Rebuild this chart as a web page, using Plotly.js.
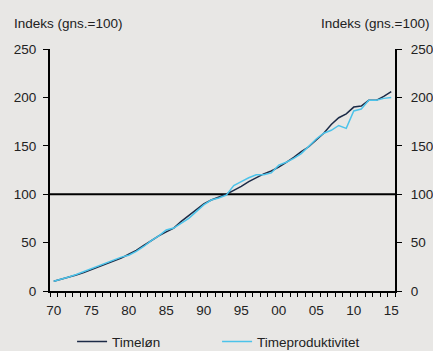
<!DOCTYPE html>
<html>
<head>
<meta charset="utf-8">
<script src="https://cdn.plot.ly/plotly-3.0.1.min.js"></script>
<style>
html,body{margin:0;padding:0;background:#e8e7e5;}
#chart{width:433px;height:351px;}
</style>
</head>
<body>
<div id="chart"></div>
<script>
const years = [1970,1971,1972,1973,1974,1975,1976,1977,1978,1979,1980,1981,1982,1983,1984,1985,1986,1987,1988,1989,1990,1991,1992,1993,1994,1995,1996,1997,1998,1999,2000,2001,2002,2003,2004,2005,2006,2007,2008,2009,2010,2011,2012,2013,2014,2015];
const timelon = [10,12,14,16.5,19,22,25,28,31,34,38,42,47,52,57,61,65,72,78,84,90,94,97,100,104,108,113,117,121,124,128,133,138,144,149,156,163,172,179,183,190,191,197,197,201,206];
const timeproduktivitet = [10,12,14.5,17,20,23,26,29,32,35,37,41,46,52,57,63,65,70,75,82,89,94,96,99,109,113,117,120,120,122,130,133,137,142,150,157,163,166,171,168,186,188,197,197,199,200];
const xTickVals = [1970,1975,1980,1985,1990,1995,2000,2005,2010,2015];
const xTickText = ['70','75','80','85','90','95','00','05','10','15'];
const yTickVals = [0,50,100,150,200,250];
const refLevel = 100;

const font = {family: 'Liberation Sans, Arial, sans-serif', size: 13.5, color: '#222'};

const traces = [
  {x: years, y: timelon, name: 'Timeløn', type: 'scatter', mode: 'lines',
   line: {color: '#1c2b47', width: 1.5}},
  {x: years, y: timeproduktivitet, name: 'Timeproduktivitet', type: 'scatter', mode: 'lines',
   line: {color: '#4cc3ea', width: 1.5}},
  {x: years, y: timelon, yaxis: 'y2', xaxis: 'x2', showlegend: false, hoverinfo: 'skip', mode: 'lines',
   line: {width: 0}, opacity: 0}
];

const axisCommon = {showgrid: false, zeroline: false, showline: true, linecolor: '#000', linewidth: 2, fixedrange: true};

const layout = {
  width: 433, height: 351,
  paper_bgcolor: '#e8e7e5', plot_bgcolor: '#e8e7e5',
  font: font,
  margin: {l: 50, r: 38, t: 49, b: 60, autoexpand: false},
  showlegend: true,
  legend: {orientation: 'h', x: 0.064, y: -0.21, xanchor: 'left', yanchor: 'middle',
    bgcolor: 'rgba(0,0,0,0)', font: {size: 13.5, color: '#222'}, entrywidth: 100, entrywidthmode: 'pixels', traceorder: 'normal'},
  xaxis: Object.assign({range: [1969.5, 2015.5], tickvals: xTickVals, ticktext: xTickText, ticks: 'outside', ticklen: 5, tickcolor: 'rgba(0,0,0,0)',
    ticklabelstandoff: 1}, axisCommon),
  xaxis2: Object.assign({range: [1969.5, 2015.5], overlaying: 'x', anchor: 'y', tickmode: 'linear', tick0: 1969.5, dtick: 1,
    ticks: 'outside', ticklen: 5, tickwidth: 1, tickcolor: '#000', showticklabels: false}, axisCommon, {showline: false}),
  yaxis: Object.assign({range: [0, 250], tickvals: yTickVals, ticks: 'outside', ticklen: 5, tickwidth: 1, tickcolor: '#000',
    ticklabelstandoff: 4}, axisCommon),
  yaxis2: Object.assign({range: [0, 250], tickvals: yTickVals, ticks: 'outside', ticklen: 5, tickwidth: 1, tickcolor: '#000',
    overlaying: 'y', side: 'right', anchor: 'x', ticklabelstandoff: 6}, axisCommon),
  shapes: [{type: 'line', xref: 'paper', x0: 0, x1: 1, yref: 'y', y0: refLevel, y1: refLevel,
    line: {color: '#000', width: 2}, layer: 'below'}],
  annotations: [
    {text: 'Indeks (gns.=100)', xref: 'paper', yref: 'paper', x: -0.11, y: 1.105, xanchor: 'left', yanchor: 'middle', showarrow: false, font: font},
    {text: 'Indeks (gns.=100)', xref: 'paper', yref: 'paper', x: 1.105, y: 1.105, xanchor: 'right', yanchor: 'middle', showarrow: false, font: font}
  ]
};

Plotly.newPlot('chart', traces, layout, {displayModeBar: false, staticPlot: true});
</script>
</body>
</html>
